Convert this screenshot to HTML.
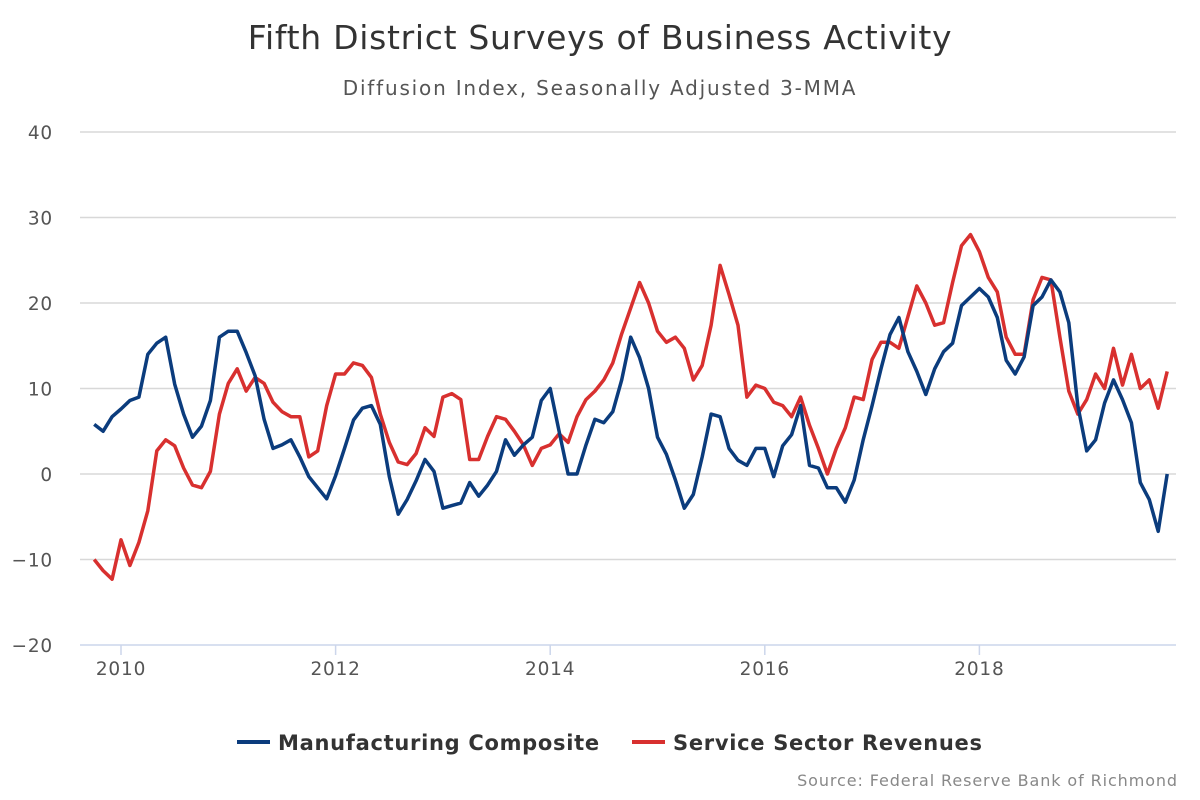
<!DOCTYPE html>
<html><head><meta charset="utf-8"><style>
body{margin:0;background:#fff;}
svg{display:block;font-family:"DejaVu Sans","Liberation Sans",sans-serif;}
</style></head><body>
<svg id="chart" width="1200" height="800">
<text x="600" y="49" text-anchor="middle" font-size="33" letter-spacing="0.7" fill="#333">Fifth District Surveys of Business Activity</text>
<text x="600" y="95" text-anchor="middle" font-size="20" letter-spacing="1.8" fill="#555">Diffusion Index, Seasonally Adjusted 3-MMA</text>
<g id="grid"></g><g id="xaxis"></g><g id="series"></g>
<g>
<g><line x1="237" y1="742" x2="270" y2="742" stroke="#0b3c7d" stroke-width="4"/><text x="278" y="750" font-size="21" letter-spacing="0.7" font-weight="bold" fill="#333">Manufacturing Composite</text></g>
<g><line x1="632" y1="742" x2="665" y2="742" stroke="#d8302f" stroke-width="4"/><text x="673" y="750" font-size="21" letter-spacing="0.7" font-weight="bold" fill="#333">Service Sector Revenues</text></g>
</g>
<text x="1178" y="786" text-anchor="end" font-size="16" letter-spacing="0.9" fill="#888">Source: Federal Reserve Bank of Richmond</text>
</svg>
<script>
const yTicks=[40,30,20,10,0,-10,-20];
const yTickLabels=["40","30","20","10","0","−10","−20"];
const xTickYears=[2010,2012,2014,2016,2018];
const startYear=2009, startMonth=9; // Oct 2009
const manufacturing=[5.8,5.0,6.7,7.6,8.6,9.0,14.0,15.3,16.0,10.5,7.0,4.3,5.6,8.6,16.0,16.7,16.7,14.2,11.5,6.4,3.0,3.4,4.0,2.0,-0.3,-1.6,-2.9,-0.2,3.0,6.3,7.7,8.0,5.8,-0.3,-4.7,-3.0,-0.8,1.7,0.3,-4.0,-3.7,-3.4,-1.0,-2.6,-1.3,0.3,4.0,2.2,3.4,4.3,8.6,10.0,5.0,0.0,0.0,3.4,6.4,6.0,7.3,11.0,16.0,13.6,10.0,4.3,2.3,-0.7,-4.0,-2.4,2.0,7.0,6.7,3.0,1.6,1.0,3.0,3.0,-0.3,3.3,4.6,8.0,1.0,0.7,-1.6,-1.6,-3.3,-0.7,4.0,8.0,12.3,16.3,18.3,14.3,12.0,9.3,12.3,14.3,15.3,19.7,20.7,21.7,20.7,18.3,13.3,11.7,13.7,19.7,20.7,22.7,21.3,17.7,8.0,2.7,4.0,8.3,11.0,8.7,6.0,-1.0,-3.0,-6.7,0.0];
const service=[-10.0,-11.3,-12.3,-7.7,-10.7,-8.0,-4.3,2.7,4.0,3.3,0.7,-1.3,-1.6,0.3,7.0,10.6,12.3,9.7,11.3,10.6,8.4,7.3,6.7,6.7,2.0,2.7,8.0,11.7,11.7,13.0,12.7,11.3,7.0,3.7,1.4,1.1,2.4,5.4,4.4,9.0,9.4,8.7,1.7,1.7,4.4,6.7,6.4,5.0,3.4,1.0,3.0,3.4,4.7,3.7,6.7,8.7,9.7,11.0,13.0,16.4,19.4,22.4,20.0,16.7,15.4,16.0,14.7,11.0,12.7,17.4,24.4,21.0,17.4,9.0,10.4,10.0,8.4,8.0,6.7,9.0,5.7,3.0,0.0,3.0,5.4,9.0,8.7,13.4,15.4,15.4,14.7,18.4,22.0,20.0,17.4,17.7,22.4,26.7,28.0,26.0,23.0,21.3,16.0,14.0,14.0,20.4,23.0,22.7,16.0,9.7,7.0,8.7,11.7,10.0,14.7,10.4,14.0,10.0,11.0,7.7,12.0];
const NS="http://www.w3.org/2000/svg";
const X0=121, perYear=107.3, Y0=474, perUnit=8.55, L=80, R=1176;
function xScale(i){return X0+((startYear*12+startMonth+i)-2010*12)*perYear/12;}
function xYear(y){return X0+(y-2010)*perYear;}
function yScale(v){return Y0-v*perUnit;}
function mk(t,a){const e=document.createElementNS(NS,t);for(const k in a)e.setAttribute(k,a[k]);return e;}
const grid=document.getElementById('grid');
yTicks.forEach((v,i)=>{
 const ln=mk('line',{x1:L,x2:R,y1:yScale(v),y2:yScale(v),stroke:v===-20?'#ccd6eb':'#d8d8d8','stroke-width':1.5});
 
 
 grid.appendChild(ln);
 const t=mk('text',{x:53,y:yScale(v)+7,'text-anchor':'end','font-size':18.5,'letter-spacing':0.8,fill:'#555'});
 t.textContent=yTickLabels[i];
 
 
 grid.appendChild(t);
});
const xa=document.getElementById('xaxis');
xTickYears.forEach(y=>{
 const tk=mk('line',{x1:xYear(y),x2:xYear(y),y1:yScale(-20),y2:yScale(-20)+10,stroke:'#ccd6eb','stroke-width':1.5});
 
 
 xa.appendChild(tk);
 const t=mk('text',{x:xYear(y),y:yScale(-20)+30,'text-anchor':'middle','font-size':18.5,'letter-spacing':0.8,fill:'#555'});
 t.textContent=y;
 
 
 xa.appendChild(t);
});
const sg=document.getElementById('series');
[[manufacturing,'#0b3c7d','manufacturing-line'],[service,'#d8302f','service-line']].forEach(([d,c,n])=>{
 const p=mk('polyline',{points:d.map((v,i)=>xScale(i).toFixed(1)+','+yScale(v).toFixed(1)).join(' '),fill:'none',stroke:c,'stroke-width':3.5,'stroke-linejoin':'round'});
 
 
 sg.appendChild(p);
});
sg.appendChild(sg.firstChild);
</script>
</body></html>
